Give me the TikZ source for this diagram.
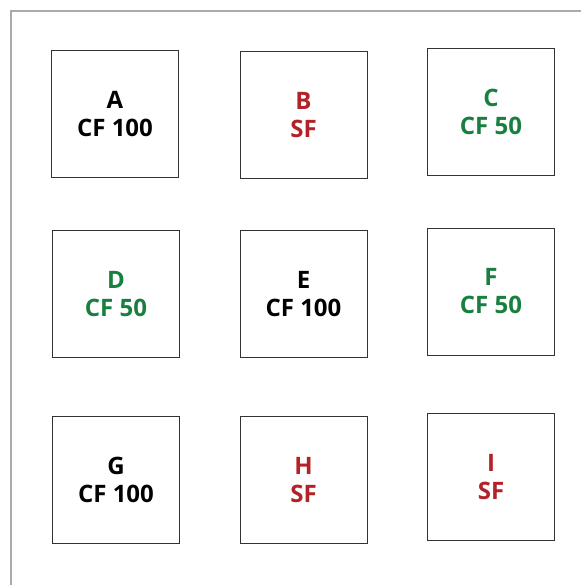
\documentclass[tikz,border=0pt]{standalone}
\usepackage{fontspec}
\setmainfont{Open Sans}
\usepackage{xcolor}
\definecolor{sfred}{RGB}{178,34,40}
\definecolor{cfgreen}{RGB}{24,128,62}
\definecolor{framegray}{RGB}{170,170,170}

\begin{document}
\begin{tikzpicture}[x=1pt,y=-1pt,
  cell/.style={draw=black!80, line width=0.9pt, minimum size=127pt, inner sep=0pt,
    align=center, font=\bfseries\fontsize{24}{28}\selectfont},
  sf/.style={cell, text=sfred},
  half/.style={cell, text=cfgreen}]
  % Page size and outer frame
  \useasboundingbox (0,0) rectangle (581,585);
  \draw[framegray, line width=2.8pt] (11,585) -- (11,11) -- (581,11);
  % First row
  \node[cell] (A) at (115,114) {A\\CF 100};
  \node[sf]   (B) at (303.5,115) {B\\SF};
  \node[half] (C) at (491,112) {C\\CF 50};
  % Second row
  \node[half] (D) at (116,294) {D\\CF 50};
  \node[cell] (E) at (303.5,294) {E\\CF 100};
  \node[half] (F) at (491,291.5) {F\\CF 50};
  % Third row
  \node[cell] (G) at (116,480) {G\\CF 100};
  \node[sf]   (H) at (303.5,480) {H\\SF};
  \node[sf]   (I) at (491,477) {I\\SF};
\end{tikzpicture}
\end{document}
